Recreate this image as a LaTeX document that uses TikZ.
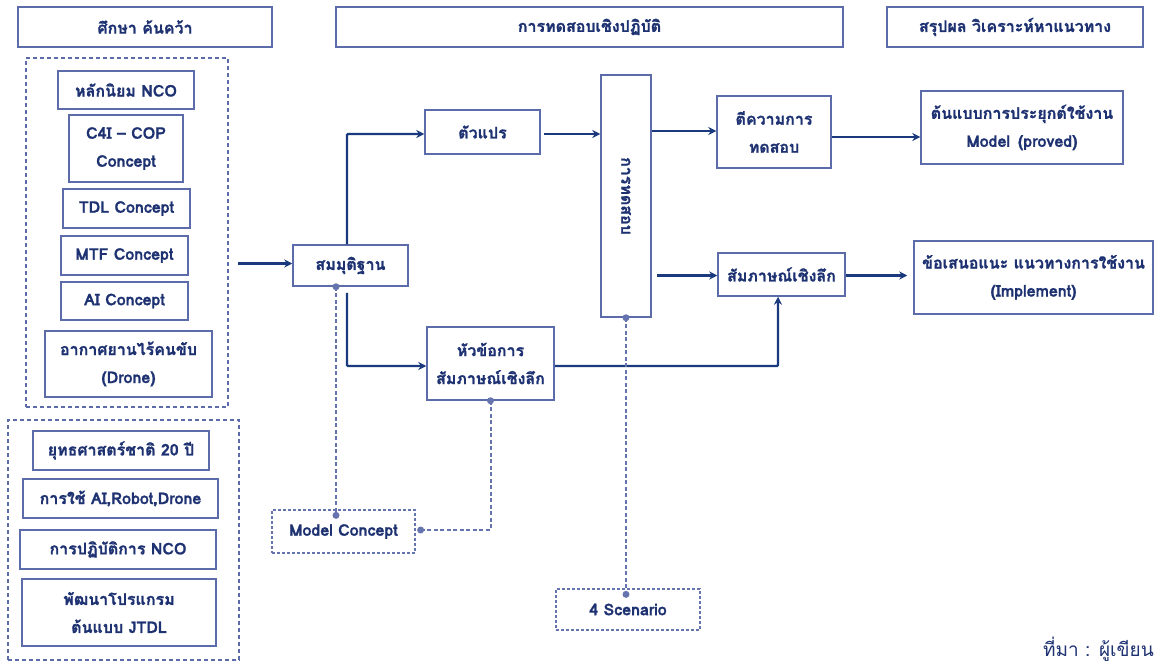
\documentclass[tikz,border=0pt]{standalone}
\usepackage{fontspec}
\setmainfont[Script=Thai, BoldFeatures={FakeBold=1.2}]{Loma}
\usetikzlibrary{arrows.meta,calc}
\definecolor{boxc}{HTML}{5C6BAA}
\definecolor{txtc}{HTML}{1E3272}
\definecolor{linec}{HTML}{1B3A7E}
\definecolor{dashc}{HTML}{6573AE}
\tikzset{
  bx/.style={draw=boxc, line width=1.5pt, rectangle, inner sep=0pt, align=center,
    text=txtc, font=\fontsize{16}{28}\selectfont\bfseries},
  grp/.style={draw=boxc, line width=1.5pt, rectangle, inner sep=0pt, dash pattern=on 4pt off 3pt},
  dbx/.style={bx, line width=1.3pt, dash pattern=on 3pt off 2pt, draw=dashc},
  arr/.style={draw=linec, line width=2.4pt, -{Stealth[length=8pt,width=8pt]}},
  dline/.style={draw=dashc, line width=2pt, dash pattern=on 4pt off 2.5pt},
  dot/.style={circle, fill=dashc, inner sep=0pt, minimum size=7pt}
}
\begin{document}
\begin{tikzpicture}[x=1pt,y=-1pt]
\useasboundingbox (0,0) rectangle (1157,669);
% headers
\node[bx, minimum width=254pt, minimum height=40pt] (h1) at (145,27) {ศึกษา ค้นคว้า};
\node[bx, minimum width=507pt, minimum height=40pt] (h2) at (589.5,27) {การทดสอบเชิงปฏิบัติ};
\node[bx, minimum width=256pt, minimum height=40pt] (h3) at (1015,27) {สรุปผล วิเคราะห์หาแนวทาง};
% group 1
\node[grp, minimum width=202pt, minimum height=349pt] (g1) at (127,232.5) {};
\node[bx, minimum width=136pt, minimum height=38pt] (nco) at (126,90) {หลักนิยม NCO};
\node[bx, minimum width=114pt, minimum height=67pt] (c4i) at (126,148.5) {C4I – COP\\Concept};
\node[bx, minimum width=127pt, minimum height=39pt] (tdl) at (126.5,208.5) {TDL Concept};
\node[bx, minimum width=127pt, minimum height=39pt] (mtf) at (124.5,255.5) {MTF Concept};
\node[bx, minimum width=127pt, minimum height=38pt] (ai) at (124.5,301) {AI Concept};
\node[bx, minimum width=167pt, minimum height=66pt] (drone) at (128.5,364) {อากาศยานไร้คนขับ\\(Drone)};
% group 2
\node[grp, minimum width=231pt, minimum height=240pt] (g2) at (123.5,540) {};
\node[bx, minimum width=176pt, minimum height=39pt] (yut) at (121,450.5) {ยุทธศาสตร์ชาติ 20 ปี};
\node[bx, minimum width=195pt, minimum height=39pt] (use) at (120.5,498.5) {การใช้ AI,Robot,Drone};
\node[bx, minimum width=196pt, minimum height=39pt] (ops) at (118,549.5) {การปฏิบัติการ NCO};
\node[bx, minimum width=194pt, minimum height=67pt] (jtdl) at (119,612.5) {พัฒนาโปรแกรม\\ต้นแบบ JTDL};
% middle
\node[bx, minimum width=115pt, minimum height=41pt] (smm) at (350.5,265.5) {สมมุติฐาน};
\node[bx, minimum width=115pt, minimum height=44pt] (var) at (482.5,132) {ตัวแปร};
\node[bx, minimum width=127pt, minimum height=73pt] (hua) at (490.5,363.5) {หัวข้อการ\\สัมภาษณ์เชิงลึก};
\node[bx, minimum width=50pt, minimum height=242pt] (test) at (626,196) {};
\node[text=txtc, font=\fontsize{16}{28}\selectfont\bfseries, rotate=-90] (testlbl) at (test.center) {การทดสอบ};
\node[bx, minimum width=114pt, minimum height=72pt] (tee) at (774,132) {ตีความการ\\ทดสอบ};
\node[bx, minimum width=202pt, minimum height=73pt] (proto) at (1022,127.5) {ต้นแบบการประยุกต์ใช้งาน\\Model\enspace(proved)};
\node[bx, minimum width=127pt, minimum height=43pt] (intv) at (781.5,274.5) {สัมภาษณ์เชิงลึก};
\node[bx, minimum width=239pt, minimum height=73pt] (sugg) at (1033.5,277.5) {ข้อเสนอแนะ แนวทางการใช้งาน\\(Implement)};
\node[dbx, minimum width=143pt, minimum height=43pt] (mc) at (343.5,531.5) {Model Concept};
\node[dbx, minimum width=144pt, minimum height=41pt] (sc) at (628,609.5) {4 Scenario};
% solid connectors
\draw[arr] ($(g1.east|-smm.west)+(9,-2)$) -- ($(smm.west)+(0,-2)$);
\draw[arr, rounded corners=1pt] ([xshift=-3.5pt]smm.north) |- ([yshift=-2pt]var.west);
\draw[arr, rounded corners=1pt] ([xshift=-3.5pt,yshift=-6pt]smm.south) |- ([yshift=-2.5pt]hua.west);
\draw[arr] ([yshift=-2pt]var.east) ++(3,0) -- ([yshift=-2pt]var.east -| test.west);
\draw[arr] ([yshift=1pt]tee.west -| test.east) -- ([yshift=1pt]tee.west);
\draw[arr] ([yshift=-5pt]tee.east) -- ([yshift=-5pt]tee.east -| proto.west);
\draw[arr] ([xshift=5pt,yshift=-1pt]intv.west -| test.east) -- ([yshift=-1pt]intv.west);
\draw[arr] ([yshift=-1pt]intv.east) -- ([xshift=-6pt,yshift=-1pt]intv.east -| sugg.west);
\draw[arr, rounded corners=1pt] ([yshift=-2.5pt]hua.east) -| ([xshift=-3.5pt]intv.south);
% dashed connectors
\draw[dline] ([xshift=-14.5pt]smm.south) -- ([xshift=-7.5pt,yshift=-6pt]mc.north);
\node[dot] at ([xshift=-14.5pt]smm.south) {};
\node[dot] at ([xshift=-7.5pt,yshift=-6pt]mc.north) {};
\draw[dline] (hua.south) |- ([xshift=5pt,yshift=1.5pt]mc.east);
\node[dot] at (hua.south) {};
\node[dot] at ([xshift=5pt,yshift=1.5pt]mc.east) {};
\draw[dline] (test.south) -- ([yshift=-6pt]test.south |- sc.north);
\node[dot] at (test.south) {};
\node[dot] at ([yshift=-6pt]test.south |- sc.north) {};
% credit
\node[anchor=base east, text=txtc, font=\fontsize{19}{22}\selectfont, inner sep=0pt] (credit) at (1154,656) {ที่มา : ผู้เขียน};
\end{tikzpicture}
\end{document}
